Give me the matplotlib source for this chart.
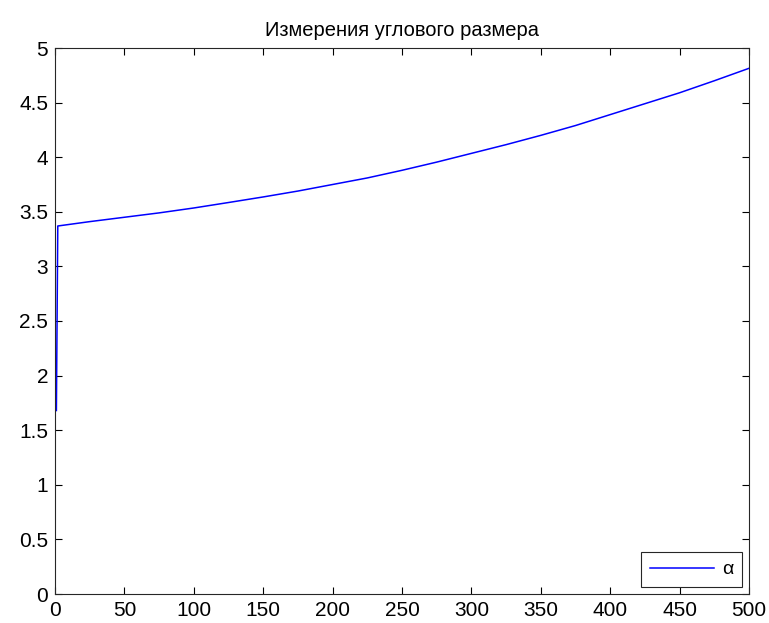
import matplotlib
matplotlib.use("Agg")
import matplotlib.pyplot as plt
from matplotlib.ticker import MultipleLocator

plt.rcParams['font.family'] = ['Liberation Sans', 'DejaVu Sans']

# Angular size measurements (step index vs. angle)
steps = [1, 2, 25, 50, 75, 100, 125, 150, 175, 200, 225, 250, 275, 300,
         325, 350, 375, 400, 425, 450, 475, 500]
alpha = [1.68, 3.37, 3.41, 3.45, 3.49, 3.535, 3.585, 3.636, 3.69, 3.75,
         3.81, 3.88, 3.955, 4.035, 4.115, 4.20, 4.29, 4.39, 4.49, 4.59,
         4.70, 4.814]

title = "Измерения углового размера"
legend_label = "α"

fig = plt.figure(figsize=(7.69, 6.23), dpi=100)
ax = fig.add_axes([55 / 769, 29 / 623, 694 / 769, 546 / 623])

ax.plot(steps, alpha, color="#0000ff", linewidth=1.1, label=legend_label)

ax.set_xlim(0, 500)
ax.set_ylim(0, 5)
ax.xaxis.set_major_locator(MultipleLocator(50))
ax.yaxis.set_major_locator(MultipleLocator(0.5))
ax.yaxis.set_major_formatter(plt.FuncFormatter(lambda v, p: f"{v:g}"))

ax.tick_params(direction="in", length=5, width=0.8, top=True, right=True,
               labelsize=15, colors="black", pad=5)
for s in ax.spines.values():
    s.set_color("#262626")
    s.set_linewidth(0.8)

ax.set_title(title, fontsize=14.5, pad=9)

leg = ax.legend(loc="lower right", fontsize=14, handlelength=3.3,
                fancybox=False, framealpha=1, edgecolor="#262626",
                borderaxespad=0.35, borderpad=0.45, handletextpad=0.4)
leg.get_frame().set_linewidth(0.8)

fig.savefig("out.png", dpi=100, facecolor="white")
